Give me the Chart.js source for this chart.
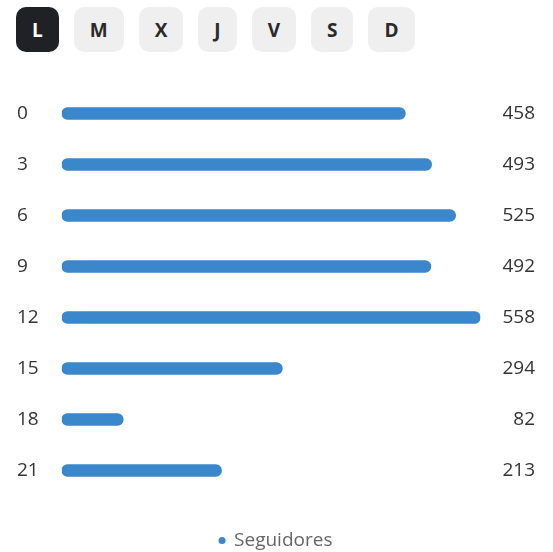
<!DOCTYPE html>
<html>
<head>
<meta charset="utf-8">
<script src="https://cdn.jsdelivr.net/npm/chart.js@4"></script>
<style>
    body { margin: 0; background: #fff; font-family: 'Open Sans', sans-serif; overflow: hidden; }
    .days { position: absolute; left: 16px; top: 7px; display: flex; gap: 15px; }
    .day-btn {
        height: 45px; padding: 0 16px; border: none; border-radius: 10px;
        background: #efefef; color: #2a2a2a; font: bold 19px 'Open Sans', sans-serif;
    }
    .day-btn.active { background: #1f2124; color: #fff; }
    .chart-wrap { position: absolute; left: 0; top: 60px; width: 553px; height: 500px; }
</style>
</head>
<body>
<div class="days"></div>
<div class="chart-wrap"><canvas id="followersChart"></canvas></div>
<script>
const days = ['L', 'M', 'X', 'J', 'V', 'S', 'D'];
const activeDay = 'L';
const hours = ['0', '3', '6', '9', '12', '15', '18', '21'];
const followers = [458, 493, 525, 492, 558, 294, 82, 213];
const seriesLabel = 'Seguidores';

document.addEventListener('DOMContentLoaded', () => {
    const daysBox = document.querySelector('.days');
    days.forEach(d => {
        const btn = document.createElement('button');
        btn.className = 'day-btn' + (d === activeDay ? ' active' : '');
        btn.textContent = d;
        daysBox.appendChild(btn);
    });

    const tickFont = { family: 'Open Sans', size: 19 };
    const ctx = document.getElementById('followersChart').getContext('2d');
    new Chart(ctx, {
        type: 'bar',
        data: {
            labels: hours,
            datasets: [{
                label: seriesLabel,
                data: followers,
                backgroundColor: '#3a87cb',
                borderRadius: 20,
                borderSkipped: false,
                barThickness: 12
            }]
        },
        options: {
            indexAxis: 'y',
            responsive: true,
            maintainAspectRatio: false,
            animation: false,
            layout: { padding: { left: 17, right: 18, top: 28, bottom: 0 } },
            scales: {
                // hidden x axis, only keeps some room above the legend
                x: {
                    display: true,
                    min: 0,
                    max: Math.max(...followers),
                    grid: { display: false, tickLength: 31 },
                    border: { display: false },
                    ticks: { display: false }
                },
                y: {
                    grid: { display: false, drawTicks: false },
                    border: { display: false },
                    ticks: { color: '#333', font: tickFont, crossAlign: 'far', padding: 11.5 }
                },
                y2: {
                    type: 'category',
                    position: 'right',
                    labels: followers.map(String),
                    grid: { display: false, drawTicks: false },
                    border: { display: false },
                    ticks: { color: '#333', font: tickFont, crossAlign: 'far', padding: 11 }
                }
            },
            plugins: {
                legend: {
                    position: 'bottom',
                    labels: {
                        usePointStyle: true,
                        pointStyle: 'circle',
                        boxWidth: 5,
                        boxHeight: 5,
                        color: '#666',
                        font: tickFont,
                        padding: 4
                    }
                },
                tooltip: { enabled: false }
            }
        }
    });
});
</script>
</body>
</html>
